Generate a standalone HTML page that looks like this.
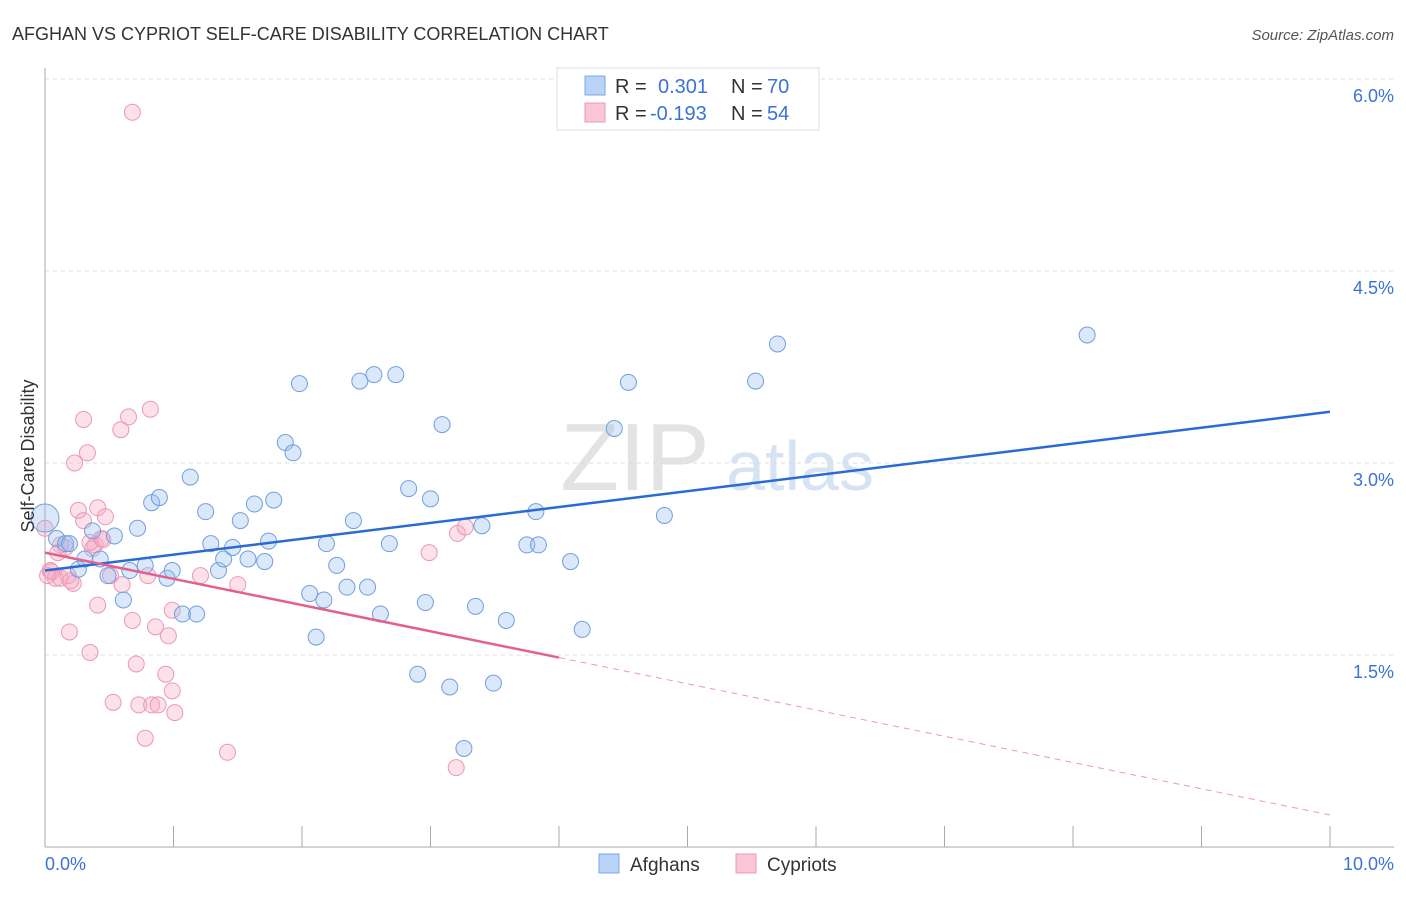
<!DOCTYPE html>
<html><head><meta charset="utf-8"><style>
body{margin:0;background:#fff;font-family:"Liberation Sans",sans-serif;}
svg text{font-family:"Liberation Sans",sans-serif;}
</style></head><body>
<svg id="chart" width="1406" height="892">
<text x="12" y="40" font-size="18" fill="#333">AFGHAN VS CYPRIOT SELF-CARE DISABILITY CORRELATION CHART</text>
<text x="1394" y="40" font-size="15" fill="#555" text-anchor="end" font-style="italic">Source: ZipAtlas.com</text>
<text x="635" y="490" font-size="96" fill="#e3e3e3" font-family="Liberation Serif" text-anchor="middle">ZIP</text>
<text x="800" y="490" font-size="70" fill="#d5e3f3" text-anchor="middle">atlas</text>
<g id="grid"></g><g id="axes"></g><g id="pts"></g><g id="trend"></g>
<text transform="translate(34,456) rotate(-90)" font-size="18" fill="#333" text-anchor="middle">Self-Care Disability</text>
<text x="45" y="870" font-size="18" fill="#3a72d8">0.0%</text>
<text x="1394" y="870" font-size="18" fill="#3a72d8" text-anchor="end">10.0%</text>
<g>
<rect x="557" y="68" width="262" height="62" fill="#fff" stroke="#ddd"/>
<rect x="585" y="76" width="20" height="19" fill="#b8d3f5" stroke="#7aa7e6"/>
<text x="615" y="93" font-size="20" fill="#333">R =</text><text x="658" y="93" font-size="20" fill="#3a72d8">0.301</text>
<text x="731" y="93" font-size="20" fill="#333">N =</text><text x="767" y="93" font-size="20" fill="#3a72d8">70</text>
<rect x="585" y="103" width="20" height="19" fill="#f8c6d6" stroke="#eb98b3"/>
<text x="615" y="120" font-size="20" fill="#333">R =</text><text x="650" y="120" font-size="20" fill="#3a72d8">-0.193</text>
<text x="731" y="120" font-size="20" fill="#333">N =</text><text x="767" y="120" font-size="20" fill="#3a72d8">54</text>
</g>
<g>
<rect x="599" y="854" width="20" height="19" fill="#b8d3f5" stroke="#7aa7e6"/>
<text x="630" y="871" font-size="19" fill="#333">Afghans</text>
<rect x="736" y="854" width="20" height="19" fill="#f8c6d6" stroke="#eb98b3"/>
<text x="767" y="871" font-size="19" fill="#333">Cypriots</text>
</g>
</svg>
<script>
const yTicks=[1.5,3.0,4.5,6.0];
const blueX=[0,0.09,0.16,0.19,0.26,0.31,0.37,0.43,0.49,0.54,0.61,0.66,0.72,0.78,0.83,0.89,0.95,0.99,1.07,1.13,1.18,1.25,1.29,1.35,1.39,1.46,1.52,1.58,1.63,1.71,1.74,1.78,1.87,1.93,1.98,2.06,2.11,2.17,2.19,2.27,2.35,2.4,2.45,2.51,2.56,2.61,2.68,2.73,2.83,2.9,2.96,3.0,3.09,3.15,3.26,3.35,3.4,3.49,3.59,3.75,3.82,3.84,4.09,4.18,4.43,4.54,4.82,5.53,5.7,8.11];
const blueY=[2.57,2.41,2.37,2.37,2.17,2.25,2.47,2.25,2.12,2.43,1.93,2.16,2.49,2.2,2.69,2.73,2.1,2.16,1.82,2.89,1.82,2.62,2.37,2.16,2.25,2.34,2.55,2.25,2.68,2.23,2.39,2.71,3.16,3.08,3.62,1.98,1.64,1.93,2.37,2.2,2.03,2.55,3.64,2.03,3.69,1.82,2.37,3.69,2.8,1.35,1.91,2.72,3.3,1.25,0.77,1.88,2.51,1.28,1.77,2.36,2.62,2.36,2.23,1.7,3.27,3.63,2.59,3.64,3.93,4.0];
const pinkX=[0.68,0,0.04,0.08,0.12,0.16,0.19,0.22,0.23,0.26,0.3,0.3,0.33,0.35,0.39,0.41,0.41,0.44,0.47,0.51,0.53,0.59,0.65,0.68,0.71,0.73,0.78,0.8,0.82,0.83,0.86,0.88,0.94,0.96,0.99,1.01,0.99,1.21,1.42,1.5,2.99,3.2,3.21,3.27,0.12,0.02,0.37,0.18,0.05,0.1,0.35,0.45,0.6,0.2];
const pinkY=[5.74,2.49,2.16,2.1,2.36,2.34,1.68,2.06,3.0,2.63,2.55,3.34,3.08,1.52,2.36,1.89,2.65,2.41,2.58,2.12,1.13,3.26,3.36,1.77,1.43,1.11,0.85,2.12,3.42,1.11,1.72,1.11,1.35,1.65,1.22,1.05,1.85,2.12,0.74,2.05,2.3,0.62,2.45,2.5,2.1,2.12,2.33,2.12,2.15,2.3,2.38,2.4,2.05,2.08];
const blueTrend=[2.16,3.4];
const pinkTrend=[2.3,0.25];
const X0=45,X1=1330,Y0=847,PY=128;
const sx=v=>X0+v/10*(X1-X0), sy=v=>Y0-v*PY;
const NS='http://www.w3.org/2000/svg';
function mk(tag,attrs,parent){const e=document.createElementNS(NS,tag);for(const k in attrs)e.setAttribute(k,attrs[k]);document.getElementById(parent).appendChild(e);return e;}
yTicks.forEach(t=>{
 const l=mk('line',{x1:45,x2:1394,y1:sy(t),y2:sy(t),stroke:'#ddd','stroke-dasharray':'4,4'},'grid');
 
 
 const tx=mk('text',{x:1394,y:sy(t)+23,'font-size':18,fill:'#3a72d8','text-anchor':'end'},'grid');
 tx.textContent=t.toFixed(1)+'%';
 
 
});
const ax=mk('line',{x1:45,x2:45,y1:68,y2:847,stroke:'#aaa'},'axes');


const bx=mk('line',{x1:45,x2:1394,y1:847,y2:847,stroke:'#aaa'},'axes');


for(let i=1;i<=10;i++){const t=mk('line',{x1:sx(i),x2:sx(i),y1:826,y2:847,stroke:'#aaa'},'axes');
 
 }
pinkX.forEach((v,i)=>{const c=mk('circle',{cx:sx(v),cy:sy(pinkY[i]),r:8,fill:'rgba(246,170,196,0.35)',stroke:'#eb98b3','stroke-width':1},'pts');
 
 });
blueX.forEach((v,i)=>{const c=mk('circle',{cx:sx(v),cy:sy(blueY[i]),r:i==0?14:8,fill:'rgba(150,190,240,0.35)',stroke:'#6f9fe0','stroke-width':1},'pts');
 
 });
const bl=mk('line',{x1:sx(0),y1:sy(blueTrend[0]),x2:sx(10),y2:sy(blueTrend[1]),stroke:'#2a6ad6','stroke-width':2.5},'trend');


const pm=pinkTrend[0]+(pinkTrend[1]-pinkTrend[0])*0.4;
const pl=mk('line',{x1:sx(0),y1:sy(pinkTrend[0]),x2:sx(4),y2:sy(pm),stroke:'#e3608d','stroke-width':2.5},'trend');


const pd=mk('line',{x1:sx(4),y1:sy(pm),x2:sx(10),y2:sy(pinkTrend[1]),stroke:'#eb98b3','stroke-width':1,'stroke-dasharray':'6,5'},'trend');


</script>
</body></html>
